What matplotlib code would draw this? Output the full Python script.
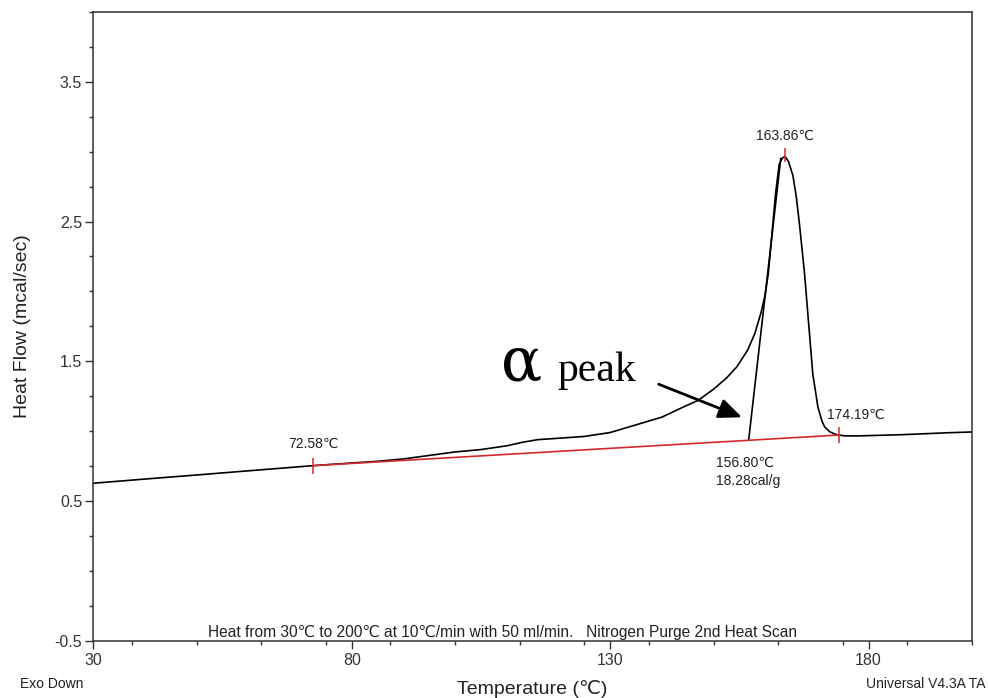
import matplotlib
matplotlib.use("Agg")
import matplotlib.pyplot as plt
from matplotlib.ticker import MultipleLocator

plt.rcParams['font.family'] = ['Liberation Sans', 'DejaVu Sans', 'Noto Sans CJK SC']
plt.rcParams['axes.unicode_minus'] = False

# DSC trace
temp = [30, 40, 50, 60, 72.58, 80, 85, 90, 95, 100, 105, 110, 113, 116, 120,
        125, 130, 135, 140, 144, 147, 150, 152.5, 154.5, 156.6, 158, 159.2,
        160.0, 160.6, 161.2, 162.0, 162.7, 163.3, 163.86, 164.5, 165.35, 166.0,
        166.6, 167.6, 168.4, 169.2, 170.2, 171.0, 171.5, 172.5, 173.5, 174.19,
        175.5, 178, 182, 186, 190, 195, 200]
heat_flow = [0.627, 0.657, 0.686, 0.716, 0.753, 0.772, 0.784, 0.801, 0.826,
             0.851, 0.868, 0.895, 0.920, 0.939, 0.949, 0.962, 0.990, 1.045,
             1.10, 1.17, 1.22, 1.30, 1.38, 1.46, 1.58, 1.70, 1.85, 1.98, 2.13,
             2.37, 2.70, 2.91, 2.955, 2.965, 2.93, 2.83, 2.68, 2.49, 2.13, 1.77,
             1.41, 1.17, 1.07, 1.03, 0.995, 0.978, 0.972, 0.966, 0.966, 0.970,
             0.974, 0.980, 0.988, 0.994]

# integration baseline and onset tangent
base_x = [72.58, 174.19]
base_y = [0.753, 0.972]
onset_x = [156.80, 163.0]
onset_y = [0.937, 2.95]
peak_x = 163.86
peak_y = 2.975

fig = plt.figure(figsize=(9.89, 6.98), dpi=100)
ax = fig.add_axes([0.0943, 0.0821, 0.8885, 0.9007])

ax.plot(temp, heat_flow, color="black", lw=1.2)
ax.plot(onset_x, onset_y, color="black", lw=1.2)
ax.plot(base_x, base_y, color="#d42a2a", lw=1.2)
ax.plot(base_x, base_y, ls="none", marker="|", ms=12, mew=1.1, color="#d42a2a")
ax.plot([peak_x], [peak_y], ls="none", marker="|", ms=10, mew=1.1, color="#d42a2a")

ax.set_xlim(30, 200)
ax.set_ylim(-0.5, 4.0)
ax.set_xticks([30, 80, 130, 180])
ax.set_yticks([-0.5, 0.5, 1.5, 2.5, 3.5])
ax.xaxis.set_minor_locator(MultipleLocator(12.5))
ax.yaxis.set_minor_locator(MultipleLocator(0.25))
ax.tick_params(which="major", direction="out", length=6, width=1, labelsize=11.5,
               colors="#333333", top=False, right=False)
ax.tick_params(which="minor", direction="out", length=3, width=1,
               colors="#333333", top=False, right=False)
ax.tick_params(axis="x", pad=3)
ax.tick_params(axis="y", pad=2)
for s in ax.spines.values():
    s.set_color("#333333")
    s.set_linewidth(1.1)

# point labels
ax.text(72.58, 0.91, "72.58℃", ha="center", va="center", fontsize=10, color="#222222")
ax.text(163.86, 3.11, "163.86℃", ha="center", va="center", fontsize=10, color="#222222")
ax.text(172.0, 1.12, "174.19℃", ha="left", va="center", fontsize=10, color="#222222")
ax.text(150.5, 0.775, "156.80℃", ha="left", va="center", fontsize=10, color="#222222")
ax.text(150.5, 0.643, "18.28cal/g", ha="left", va="center", fontsize=10, color="#222222")

# alpha peak callout
ax.text(112.9, 1.36, "α", ha="center", va="baseline", fontsize=44,
        family=["DejaVu Serif", "Liberation Serif"])
ax.text(119.8, 1.36, "peak", ha="left", va="baseline", fontsize=30,
        family=["Liberation Serif", "DejaVu Serif"])
ax.annotate("", xy=(156.0, 1.092), xytext=(138.9, 1.343),
            arrowprops=dict(arrowstyle="-|>,head_length=1.4,head_width=0.6",
                            color="black", lw=2))

ax.text(109.1, -0.47, "Heat from 30℃ to 200℃ at 10℃/min with 50 ml/min.   Nitrogen Purge 2nd Heat Scan",
        ha="center", va="baseline", fontsize=11.2, color="#222222")

fig.text(20 / 989, 1 - 684 / 698, "Exo Down", ha="left", va="center", fontsize=10, color="#222222")
fig.text(985 / 989, 1 - 684 / 698, "Universal V4.3A TA", ha="right", va="center", fontsize=10, color="#222222")
fig.text(532.6 / 989, 1 - 688.5 / 698, "Temperature (℃)", ha="center", va="center", fontsize=14, color="#222222")
fig.text(23 / 989, 1 - 326.4 / 698, "Heat Flow (mcal/sec)", ha="center", va="center",
         rotation=90, fontsize=14, color="#222222")

fig.savefig("out.png", dpi=100)
